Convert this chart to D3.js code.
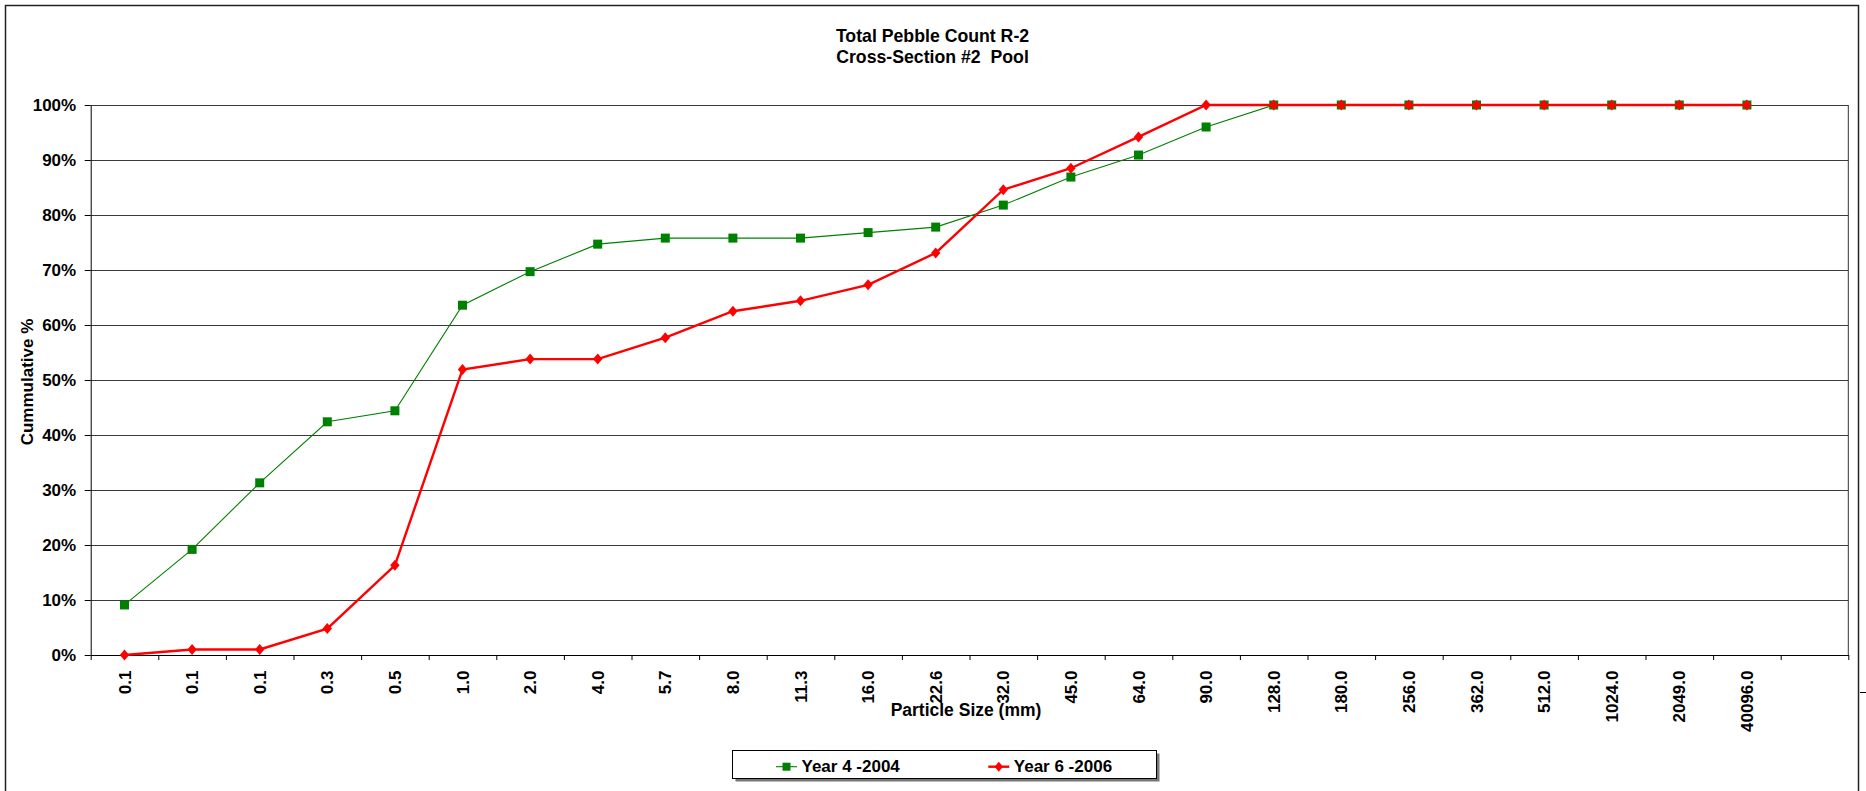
<!DOCTYPE html>
<html>
<head>
<meta charset="utf-8">
<script src="https://cdn.jsdelivr.net/npm/d3@7"></script>
<style>
  html, body { margin: 0; padding: 0; background: #fff; }
  svg { display: block; }
  text { font-family: "Liberation Sans", Arial, sans-serif; font-weight: bold; fill: #000; }
</style>
</head>
<body>
<svg id="chart" width="1866" height="791"></svg>
<script>
// Particle size classes (mm); the last category is an empty slot on the axis
const sizeLabels = ["0.1", "0.1", "0.1", "0.3", "0.5", "1.0", "2.0", "4.0", "5.7", "8.0",
  "11.3", "16.0", "22.6", "32.0", "45.0", "64.0", "90.0", "128.0", "180.0", "256.0",
  "362.0", "512.0", "1024.0", "2049.0", "40096.0", ""];

// Cumulative percent finer, per size class
const year2004 = [9.1, 19.2, 31.3, 42.4, 44.4, 63.6, 69.7, 74.7, 75.8, 75.8,
  75.8, 76.8, 77.8, 81.8, 86.9, 90.9, 96.0, 100, 100, 100,
  100, 100, 100, 100, 100];
const year2006 = [0, 1.0, 1.0, 4.8, 16.3, 51.9, 53.8, 53.8, 57.7, 62.5,
  64.4, 67.3, 73.1, 84.6, 88.5, 94.2, 100, 100, 100, 100,
  100, 100, 100, 100, 100];

const yTicks = [0, 10, 20, 30, 40, 50, 60, 70, 80, 90, 100];

const seriesNames = ["Year 4 -2004", "Year 6 -2006"];
const titleLines = ["Total Pebble Count R-2", "Cross-Section #2  Pool"];

const svg = d3.select("#chart");

// chart frame
svg.append("rect")
  .attr("x", 5.5).attr("y", 5.5)
  .attr("width", 1853).attr("height", 820)
  .attr("fill", "#fff").attr("stroke", "#222").attr("stroke-width", 1.5);
svg.append("line")
  .attr("x1", 1860).attr("x2", 1866).attr("y1", 692.5).attr("y2", 692.5)
  .attr("stroke", "#000").attr("stroke-width", 1);

const plot = { left: 90.7, right: 1848.3, top: 105, bottom: 655 };

const x = d3.scaleBand()
  .domain(d3.range(sizeLabels.length))
  .range([plot.left, plot.right])
  .padding(0);
const xEdge = d3.scaleLinear()
  .domain([0, sizeLabels.length])
  .range([plot.left, plot.right]);
const y = d3.scaleLinear().domain([0, 100]).range([plot.bottom, plot.top]);
const cx = i => x(i) + x.bandwidth() / 2;

// horizontal gridlines
svg.append("g")
  .selectAll("line")
  .data(yTicks)
  .join("line")
  .attr("x1", plot.left).attr("x2", plot.right)
  .attr("y1", d => Math.round(y(d)) + 0.5).attr("y2", d => Math.round(y(d)) + 0.5)
  .attr("stroke", "#3a3a3a").attr("stroke-width", 1);

// plot area right edge
svg.append("line")
  .attr("x1", plot.right).attr("x2", plot.right)
  .attr("y1", plot.top).attr("y2", plot.bottom)
  .attr("stroke", "#333").attr("stroke-width", 1);

// y axis
const yAxis = svg.append("g")
  .attr("transform", `translate(${plot.left},0)`)
  .call(d3.axisLeft(y).tickValues(yTicks).tickFormat(d => d + "%").tickSize(6).tickSizeOuter(0));
yAxis.select(".domain").attr("stroke", "#000");
yAxis.selectAll(".tick line").attr("stroke", "#000");
yAxis.selectAll(".tick text")
  .attr("x", -14.5)
  .style("font-size", "17px")
  .style("font-family", "'Liberation Sans', Arial, sans-serif")
  .style("font-weight", "bold");

// x axis: tick marks on category boundaries
const xTickAxis = svg.append("g")
  .attr("transform", `translate(0,${plot.bottom})`)
  .call(d3.axisBottom(xEdge).tickValues(d3.range(sizeLabels.length + 1)).tickFormat("").tickSize(5).tickSizeOuter(0));
xTickAxis.select(".domain").attr("stroke", "#000");
xTickAxis.selectAll(".tick line").attr("stroke", "#000");

// x axis: rotated category labels at band centres
const xLabelAxis = svg.append("g")
  .attr("transform", `translate(0,${plot.bottom})`)
  .call(d3.axisBottom(x).tickFormat(i => sizeLabels[i]).tickSize(0));
xLabelAxis.select(".domain").remove();
xLabelAxis.selectAll(".tick text")
  .attr("transform", "rotate(-90)")
  .attr("text-anchor", "end")
  .attr("x", -15.5)
  .attr("y", 0)
  .attr("dy", "0.36em")
  .style("font-size", "17px")
  .style("font-family", "'Liberation Sans', Arial, sans-serif")
  .style("font-weight", "bold");

// titles
svg.append("g").selectAll("text")
  .data(titleLines)
  .join("text")
  .attr("x", 932.5)
  .attr("y", (d, i) => 41.7 + i * 21)
  .attr("text-anchor", "middle")
  .style("font-size", "17.7px")
  .style("white-space", "pre")
  .text(d => d);

svg.append("text")
  .attr("x", 966).attr("y", 715.7)
  .attr("text-anchor", "middle")
  .style("font-size", "17.5px")
  .text("Particle Size (mm)");

svg.append("text")
  .attr("transform", `translate(33,${(plot.top + plot.bottom) / 2 + 2}) rotate(-90)`)
  .attr("text-anchor", "middle")
  .style("font-size", "17px")
  .text("Cummulative %");

// series
const line = d3.line().x((d, i) => cx(i)).y(d => y(d));

const squareSize = 9;
const diamond = (w, h) => `M0,${-h}L${w},0L0,${h}L${-w},0Z`;

svg.append("path")
  .datum(year2004)
  .attr("d", line)
  .attr("fill", "none").attr("stroke", "#008000").attr("stroke-width", 1.1);
svg.append("g").selectAll("rect")
  .data(year2004)
  .join("rect")
  .attr("x", (d, i) => cx(i) - squareSize / 2)
  .attr("y", d => y(d) - squareSize / 2)
  .attr("width", squareSize).attr("height", squareSize)
  .attr("fill", "#008000");

svg.append("path")
  .datum(year2006)
  .attr("d", line)
  .attr("fill", "none").attr("stroke", "#ff0000").attr("stroke-width", 2.4);
svg.append("g").selectAll("path")
  .data(year2006)
  .join("path")
  .attr("transform", (d, i) => `translate(${cx(i)},${y(d)})`)
  .attr("d", diamond(4.7, 5.5))
  .attr("fill", "#ff0000");

// legend
const legend = svg.append("g");
legend.append("rect")
  .attr("x", 735.5).attr("y", 753.5).attr("width", 424).attr("height", 28)
  .attr("fill", "#777");
legend.append("rect")
  .attr("x", 732.5).attr("y", 750.5).attr("width", 424).attr("height", 28)
  .attr("fill", "#fff").attr("stroke", "#000").attr("stroke-width", 1);

const legendItems = [
  { name: seriesNames[0], x0: 776, color: "#008000", width: 1.1, marker: "square" },
  { name: seriesNames[1], x0: 988.3, color: "#ff0000", width: 2.4, marker: "diamond" }
];
const legendY = 766.7;
legendItems.forEach(it => {
  legend.append("line")
    .attr("x1", it.x0).attr("x2", it.x0 + 21)
    .attr("y1", legendY).attr("y2", legendY)
    .attr("stroke", it.color).attr("stroke-width", it.width);
  if (it.marker === "square") {
    legend.append("rect")
      .attr("x", it.x0 + 10.5 - 4).attr("y", legendY - 4)
      .attr("width", 8).attr("height", 8)
      .attr("fill", it.color);
  } else {
    legend.append("path")
      .attr("transform", `translate(${it.x0 + 10.5},${legendY})`)
      .attr("d", diamond(4.2, 5))
      .attr("fill", it.color);
  }
  legend.append("text")
    .attr("x", it.x0 + 25.5).attr("y", 772.3)
    .style("font-size", "17px")
    .text(it.name);
});
</script>
</body>
</html>
